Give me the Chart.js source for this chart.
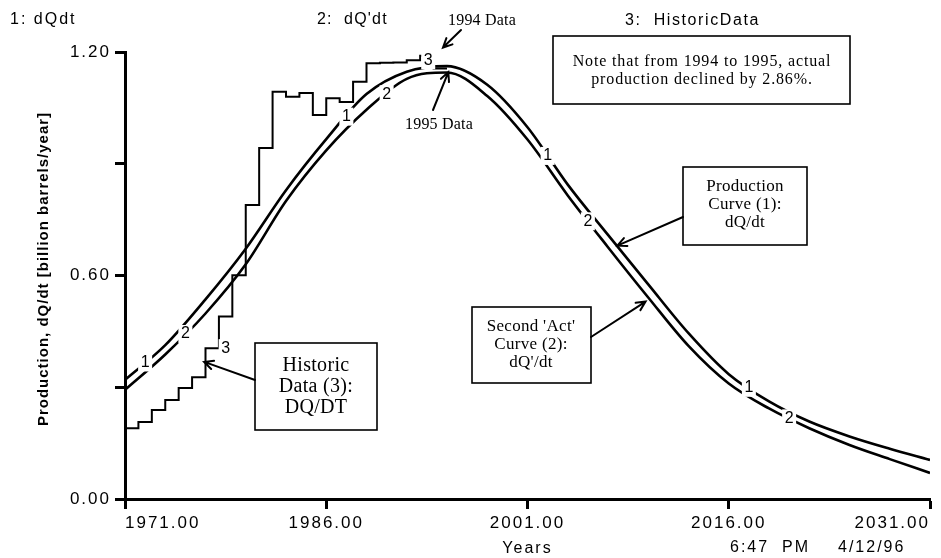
<!DOCTYPE html>
<html>
<head>
<meta charset="utf-8">
<title>Production, dQ/dt</title>
<script src="https://cdn.jsdelivr.net/npm/chart.js@4.4.1/dist/chart.umd.min.js"></script>
<style>
  html, body { margin:0; padding:0; background:#fff; }
  #wrap { width:941px; height:558px; }
</style>
</head>
<body>
<div id="wrap"><canvas id="prodChart" width="941" height="558"></canvas></div>
<script>
// ── Data ──────────────────────────────────────────────────────

const curveYears  = [1971, 1974, 1977, 1980, 1983, 1986, 1989, 1992, 1995, 1998, 2001,
                     2004, 2007, 2010, 2013, 2016, 2019, 2022, 2025, 2028, 2031];
// 1: dQdt  (production curve)
const prodCurve   = [0.320, 0.413, 0.536, 0.672, 0.829, 0.966, 1.087, 1.147, 1.162, 1.112, 0.998,
                     0.844, 0.709, 0.576, 0.445, 0.335, 0.262, 0.208, 0.168, 0.135, 0.105];
// 2: dQ'dt (second 'act' curve)
const secondCurve = [0.293, 0.388, 0.498, 0.630, 0.800, 0.936, 1.045, 1.128, 1.145, 1.082, 0.965,
                     0.815, 0.676, 0.541, 0.411, 0.310, 0.243, 0.190, 0.145, 0.107, 0.070];

const histYears = [1971, 1972, 1973, 1974, 1975, 1976, 1977, 1978, 1979, 1980, 1981, 1982, 1983,
                   1984, 1985, 1986, 1987, 1988, 1989, 1990, 1991, 1992, 1993, 1994, 1995];
// 3: HistoricData
const histData  = [0.185, 0.190, 0.207, 0.239, 0.266, 0.298, 0.327, 0.405, 0.490, 0.601, 0.789,
                   0.942, 1.093, 1.080, 1.090, 1.031, 1.076, 1.066, 1.120, 1.170, 1.171, 1.172,
                   1.178, 1.190, 1.156];

const xTicks    = [1971, 1986, 2001, 2016, 2031];
const yTicks    = [0, 0.3, 0.6, 0.9, 1.2];
const yLabelled = [0, 0.6, 1.2];

// where the "1", "2", "3" markers sit along each curve (years)
const prodMarks   = [1972.5, 1987.5, 2002.5, 2017.5];
const secondMarks = [1975.5, 1990.5, 2005.5, 2020.5];
const histMarks   = [1978.5, 1993.6];

const SANS  = '"Liberation Sans", Arial, Helvetica, sans-serif';
const SERIF = '"Liberation Serif", "Times New Roman", serif';

// ── helpers ───────────────────────────────────────────────────

function pairs(xs, ys) { return xs.map((x, i) => ({ x, y: ys[i] })); }

function lerpAt(xs, ys, v) {
  for (let i = 0; i < xs.length - 1; i++) {
    if (v >= xs[i] && v <= xs[i + 1]) {
      const t = (v - xs[i]) / (xs[i + 1] - xs[i]);
      return ys[i] + t * (ys[i + 1] - ys[i]);
    }
  }
  return ys[ys.length - 1];
}

function stepAt(xs, ys, v) {
  let out = ys[0];
  xs.forEach((x, i) => { if (v >= x) out = ys[i]; });
  return out;
}

function text(ctx, s, x, y, font, align, spacing) {
  ctx.save();
  ctx.font = font;
  ctx.letterSpacing = (spacing || 0) + 'px';
  ctx.fillStyle = '#000';
  ctx.textAlign = align || 'left';
  ctx.textBaseline = 'middle';
  ctx.fillText(s, x, y);
  ctx.restore();
}

function box(ctx, x, y, w, h) {
  ctx.save();
  ctx.fillStyle = '#fff';
  ctx.fillRect(x, y, w, h);
  ctx.strokeStyle = '#000';
  ctx.lineWidth = 1.6;
  ctx.strokeRect(x, y, w, h);
  ctx.restore();
}

function arrow(ctx, x0, y0, x1, y1) {
  const a = Math.atan2(y1 - y0, x1 - x0);
  const len = 10;
  ctx.save();
  ctx.strokeStyle = '#000';
  ctx.lineWidth = 2;
  ctx.lineCap = 'round';
  ctx.beginPath();
  ctx.moveTo(x0, y0);
  ctx.lineTo(x1, y1);
  ctx.moveTo(x1 - len * Math.cos(a - 0.45), y1 - len * Math.sin(a - 0.45));
  ctx.lineTo(x1, y1);
  ctx.lineTo(x1 - len * Math.cos(a + 0.45), y1 - len * Math.sin(a + 0.45));
  ctx.stroke();
  ctx.restore();
}

function curveMark(ctx, s, px, py) {
  ctx.save();
  ctx.fillStyle = '#fff';
  ctx.fillRect(px - 7, py - 9, 14, 18);
  ctx.restore();
  text(ctx, s, px, py, '16px ' + SANS, 'center', 0);
}

// ── plugins ───────────────────────────────────────────────────

const spacingPlugin = {
  id: 'spacing',
  beforeDraw(chart) { chart.ctx.letterSpacing = '2px'; },
  afterDraw(chart)  { chart.ctx.letterSpacing = '0px'; }
};

const annotations = {
  id: 'annotations',
  afterDatasetsDraw(chart) {
    const { ctx, scales: { x, y } } = chart;
    const px = v => x.getPixelForValue(v);
    const py = v => y.getPixelForValue(v);

    // curve markers
    prodMarks.forEach(yr   => curveMark(ctx, '1', px(yr), py(lerpAt(curveYears, prodCurve, yr))));
    secondMarks.forEach(yr => curveMark(ctx, '2', px(yr), py(lerpAt(curveYears, secondCurve, yr))));
    histMarks.forEach(yr   => curveMark(ctx, '3', px(yr), py(stepAt(histYears, histData, yr))));

    // series headers
    text(ctx, '1: dQdt',          10, 20, '16px ' + SANS, 'left', 2);
    text(ctx, "2:  dQ'dt",       317, 20, '16px ' + SANS, 'left', 1.2);
    text(ctx, '3:  HistoricData', 625, 21, '16px ' + SANS, 'left', 1.6);

    // y axis title
    ctx.save();
    ctx.translate(44, 269);
    ctx.rotate(-Math.PI / 2);
    text(ctx, 'Production, dQ/dt [billion barrels/year]', 0, 0, 'bold 15px ' + SANS, 'center', 1);
    ctx.restore();

    // time stamp
    text(ctx, '6:47  PM', 730, 548, '16px ' + SANS, 'left', 2);
    text(ctx, '4/12/96',  838, 548, '16px ' + SANS, 'left', 2);

    // 1994 / 1995 data pointers
    text(ctx, '1994 Data', 482, 21, '16px ' + SERIF, 'center', 0.2);
    arrow(ctx, 461, 30, px(1994.7), py(1.212));
    text(ctx, '1995 Data', 439, 125, '16px ' + SERIF, 'center', 0.2);
    arrow(ctx, 433, 110, px(1995.1), py(1.146));

    // note box
    box(ctx, 553, 36, 297, 68);
    text(ctx, 'Note that from 1994 to 1995, actual', 702, 62, '16px ' + SERIF, 'center', 0.85);
    text(ctx, 'production declined by 2.86%.',        702, 80, '16px ' + SERIF, 'center', 0.85);

    // production curve box
    box(ctx, 683, 167, 124, 78);
    text(ctx, 'Production',  745, 187, '17px ' + SERIF, 'center', 0.3);
    text(ctx, 'Curve (1):',  745, 205, '17px ' + SERIF, 'center', 0.3);
    text(ctx, 'dQ/dt',       745, 223, '17px ' + SERIF, 'center', 0.3);
    arrow(ctx, 683, 217, px(2007.7), py(0.68));

    // second act box
    box(ctx, 472, 307, 119, 76);
    text(ctx, "Second 'Act'", 531, 327, '17px ' + SERIF, 'center', 0.3);
    text(ctx, 'Curve (2):',   531, 345, '17px ' + SERIF, 'center', 0.3);
    text(ctx, "dQ'/dt",       531, 363, '17px ' + SERIF, 'center', 0.3);
    arrow(ctx, 591, 337, px(2009.8), py(0.53));

    // historic data box
    box(ctx, 255, 343, 122, 87);
    text(ctx, 'Historic',  316, 366, '20px ' + SERIF, 'center', 0.3);
    text(ctx, 'Data (3):', 316, 387, '20px ' + SERIF, 'center', 0.3);
    text(ctx, 'DQ/DT',     316, 408, '20px ' + SERIF, 'center', 0.3);
    arrow(ctx, 255, 380, px(1976.9), py(0.368));
  }
};

// ── chart ─────────────────────────────────────────────────────

new Chart(document.getElementById('prodChart'), {
  type: 'line',
  data: {
    datasets: [
      {
        label: 'dQdt',
        data: pairs(curveYears, prodCurve),
        borderColor: '#000',
        borderWidth: 2.6,
        cubicInterpolationMode: 'monotone',
        pointRadius: 0,
        fill: false,
      },
      {
        label: "dQ'dt",
        data: pairs(curveYears, secondCurve),
        borderColor: '#000',
        borderWidth: 2.6,
        cubicInterpolationMode: 'monotone',
        pointRadius: 0,
        fill: false,
      },
      {
        label: 'HistoricData',
        data: pairs(histYears, histData),
        borderColor: '#000',
        borderWidth: 2,
        stepped: 'after',
        pointRadius: 0,
        fill: false,
      }
    ]
  },
  options: {
    responsive: false,
    animation: false,
    devicePixelRatio: 1,
    layout: { padding: { top: 52, right: 11, left: 0, bottom: 0 } },
    plugins: { legend: { display: false }, tooltip: { enabled: false } },
    scales: {
      x: {
        type: 'linear',
        min: 1971,
        max: 2031,
        afterBuildTicks: s => { s.ticks = xTicks.map(v => ({ value: v })); },
        afterFit: s => { s.height = 59; },
        ticks: {
          align: 'inner',
          padding: 4,
          color: '#000',
          font: { family: SANS, size: 17 },
          callback: v => Number(v).toFixed(2),
        },
        grid: { drawOnChartArea: false, drawTicks: true, tickLength: 10, tickWidth: 3, tickColor: '#000' },
        border: { display: true, width: 3, color: '#000' },
        title: { display: true, text: 'Years', color: '#000', font: { family: SANS, size: 16 }, padding: { top: 0, bottom: 0 } },
      },
      y: {
        type: 'linear',
        min: 0,
        max: 1.2,
        afterBuildTicks: s => { s.ticks = yTicks.map(v => ({ value: v })); },
        afterFit: s => { s.width = 125; },
        ticks: {
          padding: 4,
          color: '#000',
          font: { family: SANS, size: 17 },
          callback: v => yLabelled.includes(v) ? Number(v).toFixed(2) : '',
        },
        grid: { drawOnChartArea: false, drawTicks: true, tickLength: 10, tickWidth: 3, tickColor: '#000' },
        border: { display: true, width: 3, color: '#000' },
      }
    }
  },
  plugins: [spacingPlugin, annotations]
});
</script>
</body>
</html>
